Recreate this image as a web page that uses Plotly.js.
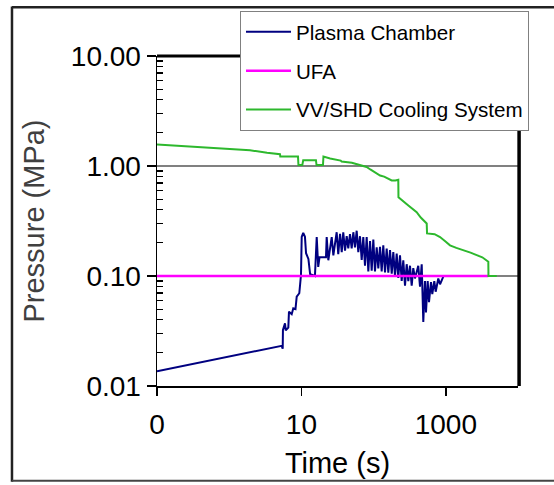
<!DOCTYPE html>
<html>
<head>
<meta charset="utf-8">
<script src="https://cdn.plot.ly/plotly-3.0.1.min.js"></script>
<style>
  html, body { margin: 0; padding: 0; background: #fff; }
  #chart { width: 554px; height: 485px; }
</style>
</head>
<body>
<div id="chart"></div>
<script>
// ---- data (time in s, pressure in MPa) ----
const plasmaTime = [0.1, 5.33, 5.51, 5.55, 5.93, 6.06, 6.59, 6.73, 7.34, 7.72, 8.28, 8.61, 9.35, 9.87, 10.1, 10.6, 11.2, 11.6, 12.5, 13.2, 15.4,
  16.3, 17.1, 17.8, 21.9, 22.4, 23.6, 26.3, 27.7, 30.8, 32.4, 34.3, 36.2, 38.0, 40.2, 42.4, 44.6, 47.1, 49.7, 52.4, 55.2, 58.3, 61.4,
  64.8, 68.4, 72.0, 76.0, 80.2, 84.5, 89.2, 94.1, 99.1, 104.5, 110.4, 116.2, 122.7, 129.4, 136.2, 143.9, 151.8, 159.9, 168.8, 178.2,
  187.5, 197.8, 208.9, 219.8, 232.1, 244.9, 257.8, 272.3, 287.3, 302.6, 319.3, 337.0, 354.5, 374.2, 415.7, 439.3, 463.6, 488.0,
  514.8, 531.7, 561.4, 585, 623.7, 650, 693, 724, 787, 832, 923];
const plasmaPressure = [0.0136, 0.0232, 0.0218, 0.0324, 0.0372, 0.032, 0.034, 0.0474, 0.045, 0.0509, 0.050, 0.0649, 0.0697, 0.102, 0.227, 0.247, 0.227, 0.161, 0.143, 0.104, 0.100,
  0.226, 0.121, 0.148, 0.148, 0.226, 0.139, 0.226, 0.154, 0.25, 0.158, 0.242, 0.165, 0.25, 0.17, 0.23, 0.178, 0.24, 0.178, 0.25, 0.182, 0.258, 0.165,
  0.23, 0.14, 0.226, 0.124, 0.226, 0.110, 0.208, 0.112, 0.215, 0.110, 0.182, 0.117, 0.184, 0.110, 0.19, 0.108, 0.178, 0.107, 0.172, 0.105,
  0.165, 0.10, 0.16, 0.096, 0.154, 0.090, 0.139, 0.0815, 0.128, 0.090, 0.124, 0.0815, 0.118, 0.095, 0.124, 0.080, 0.128, 0.0383,
  0.090, 0.0466, 0.090, 0.0577, 0.088, 0.0685, 0.09, 0.072, 0.095, 0.084, 0.0987];

const ufaTime = [0.1, 3880];
const ufaPressure = [0.10, 0.10];

const coolTime = [0.1, 1.94, 3.34, 5.05, 5.1, 8.97, 9.1, 10.3, 10.6, 15.9, 16.2, 19.9, 20.2, 25, 35, 36, 50, 60, 72, 80, 90, 100, 123,
  140, 160, 178, 200, 219.8, 221, 260, 300, 395, 450, 544, 550, 700, 832, 1000, 1143, 1400, 1750, 2200, 2680, 3200, 3880, 3900, 5070];
const coolPressure = [1.57, 1.39, 1.32, 1.28, 1.22, 1.22, 1.02, 1.02, 1.13, 1.13, 1.02, 1.02, 1.22, 1.17, 1.12, 1.10, 1.07, 1.04, 1.0, 0.98, 0.93, 0.89, 0.82,
  0.80, 0.77, 0.74, 0.74, 0.75, 0.52, 0.48, 0.44, 0.38, 0.34, 0.30, 0.244, 0.24, 0.226, 0.205, 0.19, 0.18, 0.172, 0.163, 0.155, 0.148, 0.135, 0.10, 0.10];

const seriesNames = ['Plasma Chamber', 'UFA', 'VV/SHD Cooling System'];
const xTickVals = [0.1, 10, 1000];
const xTickText = ['0', '10', '1000'];
const yTickVals = [0.01, 0.1, 1, 10];
const yTickText = ['0.01', '0.10', '1.00', '10.00'];
const yMinorTickVals = [0.02, 0.03, 0.04, 0.05, 0.06, 0.07, 0.08, 0.09,
  0.2, 0.3, 0.4, 0.5, 0.6, 0.7, 0.8, 0.9,
  2, 3, 4, 5, 6, 7, 8, 9];

// ---- chart ----
const FONT = 'Liberation Sans, Arial, Helvetica, sans-serif';
const traces = [
  { x: plasmaTime, y: plasmaPressure, name: seriesNames[0], legendgroup: 'a', mode: 'lines',
    line: { color: '#000080', width: 2 } },
  { x: ufaTime, y: ufaPressure, name: seriesNames[1], legendgroup: 'b', mode: 'lines',
    line: { color: '#FF00FF', width: 2.5 } },
  { x: coolTime, y: coolPressure, name: seriesNames[2], legendgroup: 'c', mode: 'lines',
    line: { color: '#2DB82D', width: 2 } }
];

const layout = {
  width: 554, height: 485,
  margin: { l: 157, r: 36, t: 55, b: 99, pad: 0 },
  paper_bgcolor: '#fff', plot_bgcolor: '#fff',
  font: { family: FONT, color: '#000' },
  showlegend: true,
  legend: {
    x: 0.2299, y: 1.133, xanchor: 'left', yanchor: 'top',
    bgcolor: '#fff', bordercolor: '#808080', borderwidth: 1,
    font: { family: FONT, size: 20.6, color: '#000' },
    itemwidth: 45, tracegroupgap: 9
  },
  xaxis: {
    type: 'log', range: [-1, 4], autorange: false,
    tickmode: 'array', tickvals: xTickVals, ticktext: xTickText,
    ticks: 'outside', ticklen: 8, tickwidth: 1.5, tickcolor: '#000',
    ticklabelstandoff: 5,
    showline: true, linecolor: '#000', linewidth: 1.5,
    showgrid: false, zeroline: false,
    tickfont: { family: FONT, size: 28, color: '#000' },
    title: { text: 'Time (s)', font: { family: FONT, size: 29, color: '#000' }, standoff: 13 },
    automargin: false
  },
  yaxis: {
    type: 'log', range: [-2, 1], autorange: false,
    tickmode: 'array', tickvals: yTickVals, ticktext: yTickText,
    ticks: 'outside', ticklen: 9, tickwidth: 1.5, tickcolor: '#000',
    minor: { tickmode: 'array', tickvals: yMinorTickVals, ticks: 'inside', ticklen: 6,
             tickwidth: 1.2, tickcolor: '#000', showgrid: false },
    showline: true, linecolor: '#000', linewidth: 1.5,
    showgrid: true, gridcolor: '#808080', gridwidth: 1.5, zeroline: false,
    tickfont: { family: FONT, size: 28, color: '#000' },
    title: { text: 'Pressure (MPa)', font: { family: FONT, size: 29, color: '#404040' }, standoff: 17 },
    automargin: false
  },
  shapes: [
    // heavy top and right frame of plot area
    { type: 'line', xref: 'paper', yref: 'paper', x0: 0, x1: 1.003, y0: 1, y1: 1, line: { color: '#000', width: 3 } },
    { type: 'line', xref: 'paper', yref: 'paper', x0: 1.003, x1: 1.003, y0: 0, y1: 1, line: { color: '#000', width: 3.5 } },
    // outer chart border
    { type: 'line', xref: 'paper', yref: 'paper', x0: -0.4017, x1: -0.4017, y0: -0.29, y1: 1.15, line: { color: '#222', width: 2.5 } },
    { type: 'line', xref: 'paper', yref: 'paper', x0: -0.4017, x1: 1.2, y0: 1.148, y1: 1.148, line: { color: '#222', width: 2.5 } },
    { type: 'line', xref: 'paper', yref: 'paper', x0: -0.4017, x1: 1.2, y0: -0.287, y1: -0.287, line: { color: '#444', width: 2 } }
  ]
};

Plotly.newPlot('chart', traces, layout, { staticPlot: true, displayModeBar: false });
</script>
</body>
</html>
